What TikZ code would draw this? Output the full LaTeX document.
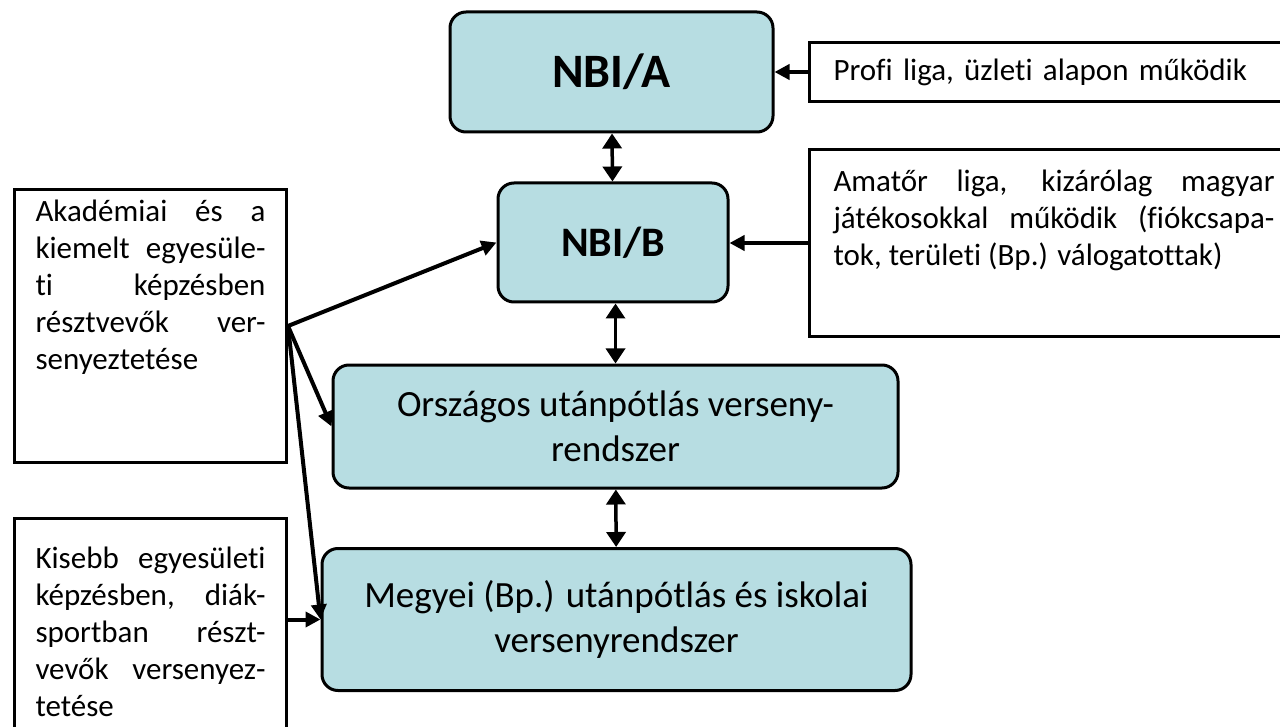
\documentclass[tikz,border=0pt]{standalone}
\usepackage{fontspec}
\setmainfont{Carlito}[Ligatures=CommonOff]
\usetikzlibrary{arrows.meta}
\definecolor{boxfill}{RGB}{183,221,226}
\tikzset{
  level/.style={draw,line width=3pt,rounded corners=16pt,fill=boxfill,align=center,inner sep=0pt},
  note/.style={draw,line width=3pt,inner ysep=0pt,anchor=north west,font=\fontsize{31}{37}\selectfont},
  link/.style={line width=4pt,-{Triangle[length=15pt,width=15pt]}},
  both/.style={line width=3.5pt,{Triangle[length=15pt,width=19pt]}-{Triangle[length=15pt,width=19pt]}}
}
\newcommand{\notetext}[4]{\parbox[c][#1][t]{#2}{\vspace*{#3}\strut#4}}
\tolerance=10000
\hbadness=10000
\hyphenpenalty=10000

\begin{document}
\begin{tikzpicture}[x=1pt,y=-1pt]
      \useasboundingbox (0,0) rectangle (1280,727);
      \clip (0,0) rectangle (1280,727);
      \node[level,minimum width=323pt,minimum height=120pt,font=\bfseries\fontsize{48}{58}\selectfont] (NBIA) at (611.5,72) {NBI/A};
      \node[level,minimum width=230pt,minimum height=119pt,font=\bfseries\fontsize{42}{50}\selectfont] (NBIB) at (613,242.5) {NBI/B};
      \node[level,minimum width=565pt,minimum height=123pt,font=\fontsize{37}{45}\selectfont] (Orsz) at (615.5,426.5) {Országos utánpótlás verseny-\\rendszer};
      \node[level,minimum width=589pt,minimum height=142pt,font=\fontsize{37}{45}\selectfont] (Meg) at (616.5,619.5) {Megyei (Bp.) utánpótlás és iskolai\\versenyrendszer};

      \node[note,text width=441pt,align=left,inner xsep=24pt,minimum height=59pt] (Profi) at (808,41) {Profi liga, üzleti alapon működik};
      \node[note,inner xsep=24pt] (Amat) at (808,148) {\notetext{187pt}{441pt}{16pt}{Amatőr liga, kizárólag magyar\linebreak játékosokkal működik (fiókcsapa-\linebreak tok, területi (Bp.) válogatottak)}};
      \node[note,inner xsep=21pt] (Akad) at (13,188) {\notetext{273pt}{230pt}{6pt}{Akadémiai és a\linebreak kiemelt egyesüle-\linebreak ti képzésben\linebreak résztvevők ver-\linebreak senyeztetése}};
      \node[note,inner xsep=21pt] (Kis) at (13,517) {\notetext{230pt}{230pt}{24pt}{Kisebb egyesületi\linebreak képzésben, diák-\linebreak sportban részt-\linebreak vevők versenyez-\linebreak tetése}};

      \draw[link] (Profi.west) -- (Profi.west -| NBIA.east);
      \draw[link] (Amat.west) -- (Amat.west -| NBIB.east);
      \draw[link] (Akad.east) -- (NBIB.west);
      \draw[link] (Akad.east) -- (Orsz.west);
      \draw[link] (Akad.east) -- (Meg.west);
      \draw[link] (Kis.east |- Meg.west) -- (Meg.west);
      \draw[both] (NBIA) -- (NBIB);
      \draw[both] (Orsz.north |- NBIB.south) -- (Orsz.north);
      \draw[both] (Orsz) -- (Meg);
    \end{tikzpicture}
\end{document}
